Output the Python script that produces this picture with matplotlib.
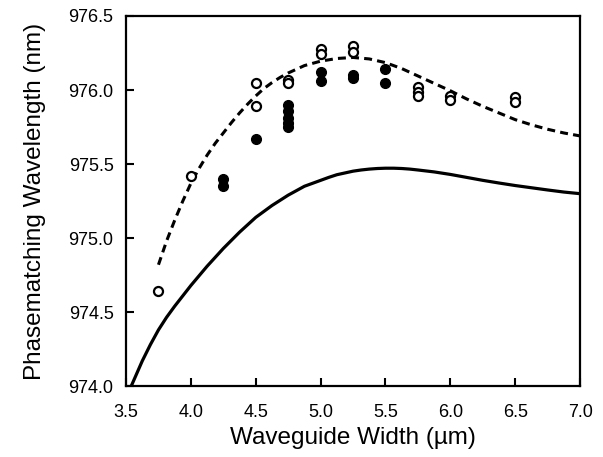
import matplotlib
matplotlib.use("Agg")
import matplotlib.pyplot as plt

plt.rcParams["font.family"] = ["Liberation Sans", "DejaVu Sans"]

# model curves
solid_x = [3.54, 3.58, 3.625, 3.6875, 3.75, 3.8125, 3.875, 3.9375, 4.0, 4.0625,
           4.125, 4.1875, 4.25, 4.3125, 4.375, 4.4375, 4.5, 4.5625, 4.625, 4.6875,
           4.75, 4.8125, 4.875, 4.9375, 5.0, 5.0625, 5.125, 5.1875, 5.25, 5.3125,
           5.375, 5.4375, 5.5, 5.5625, 5.625, 5.6875, 5.75, 5.875, 6.0, 6.125,
           6.25, 6.375, 6.5, 6.625, 6.75, 6.875, 7.0]
solid_y = [974.0, 974.08, 974.17, 974.28, 974.38, 974.465, 974.54, 974.61, 974.68,
           974.745, 974.81, 974.87, 974.93, 974.985, 975.04, 975.09, 975.14,
           975.18, 975.22, 975.255, 975.29, 975.32, 975.35, 975.37, 975.39, 975.41,
           975.428, 975.44, 975.452, 975.46, 975.466, 975.47, 975.472, 975.472,
           975.47, 975.466, 975.46, 975.447, 975.43, 975.41, 975.39, 975.372,
           975.355, 975.34, 975.325, 975.311, 975.30]

dashed_x = [3.75, 3.8125, 3.875, 3.9375, 4.0, 4.0625, 4.125, 4.1875, 4.25, 4.3125,
            4.375, 4.4375, 4.5, 4.5625, 4.625, 4.6875, 4.75, 4.875, 5.0, 5.125,
            5.25, 5.375, 5.5, 5.625, 5.75, 5.875, 6.0, 6.125, 6.25, 6.375, 6.5,
            6.625, 6.75, 6.875, 7.0]
dashed_y = [974.82, 974.98, 975.12, 975.25, 975.37, 975.47, 975.56, 975.64, 975.71,
            975.78, 975.845, 975.905, 975.96, 976.01, 976.05, 976.085, 976.115,
            976.165, 976.195, 976.213, 976.22, 976.21, 976.185, 976.145, 976.095,
            976.045, 975.995, 975.94, 975.89, 975.845, 975.80, 975.765, 975.735,
            975.71, 975.69]

# measured points
open_x = [3.75, 4.0, 4.5, 4.5, 4.75, 4.75, 5.0, 5.0, 5.25, 5.25, 5.75, 5.75, 5.75,
          6.0, 6.0, 6.5, 6.5]
open_y = [974.64, 975.42, 976.05, 975.89, 976.07, 976.05, 976.28, 976.24, 976.30,
          976.26, 976.02, 975.99, 975.96, 975.96, 975.93, 975.95, 975.92]

filled_x = [4.25, 4.25, 4.5, 4.75, 4.75, 4.75, 4.75, 4.75, 5.0, 5.0, 5.25, 5.25,
            5.5, 5.5]
filled_y = [975.40, 975.35, 975.67, 975.90, 975.86, 975.81, 975.78, 975.75, 976.12,
            976.06, 976.10, 976.08, 976.14, 976.05]

xticks = [3.5, 4.0, 4.5, 5.0, 5.5, 6.0, 6.5, 7.0]
yticks = [974.0, 974.5, 975.0, 975.5, 976.0, 976.5]

fig = plt.figure(figsize=(6.03, 4.57), dpi=100)
ax = fig.add_axes([0.209, 0.155, 0.753, 0.81])

ax.plot(solid_x, solid_y, color="black", lw=2.3, solid_joinstyle="round")
ax.plot(dashed_x, dashed_y, color="black", lw=2.2, dashes=(2.6, 1.7))
ax.plot(open_x, open_y, "o", ms=6.5, mfc="white", mec="black", mew=1.6,
        linestyle="none")
ax.plot(filled_x, filled_y, "o", ms=7, mfc="black", mec="black", linestyle="none")

ax.set_xlim(3.5, 7.0)
ax.set_ylim(974.0, 976.5)
ax.set_xticks(xticks)
ax.set_yticks(yticks)
ax.set_xticklabels(["%.1f" % v for v in xticks])
ax.set_yticklabels(["%.1f" % v for v in yticks])
ax.tick_params(direction="in", length=6, width=1.5, labelsize=13)
ax.tick_params(axis="x", pad=13)
ax.tick_params(axis="y", pad=9)
for s in ax.spines.values():
    s.set_linewidth(1.6)

ax.set_xlabel("Waveguide Width (\u00b5m)", fontsize=17.5, labelpad=4)
ax.set_ylabel("Phasematching Wavelength (nm)", fontsize=17.5, labelpad=16)

fig.savefig("out.png", dpi=100)
